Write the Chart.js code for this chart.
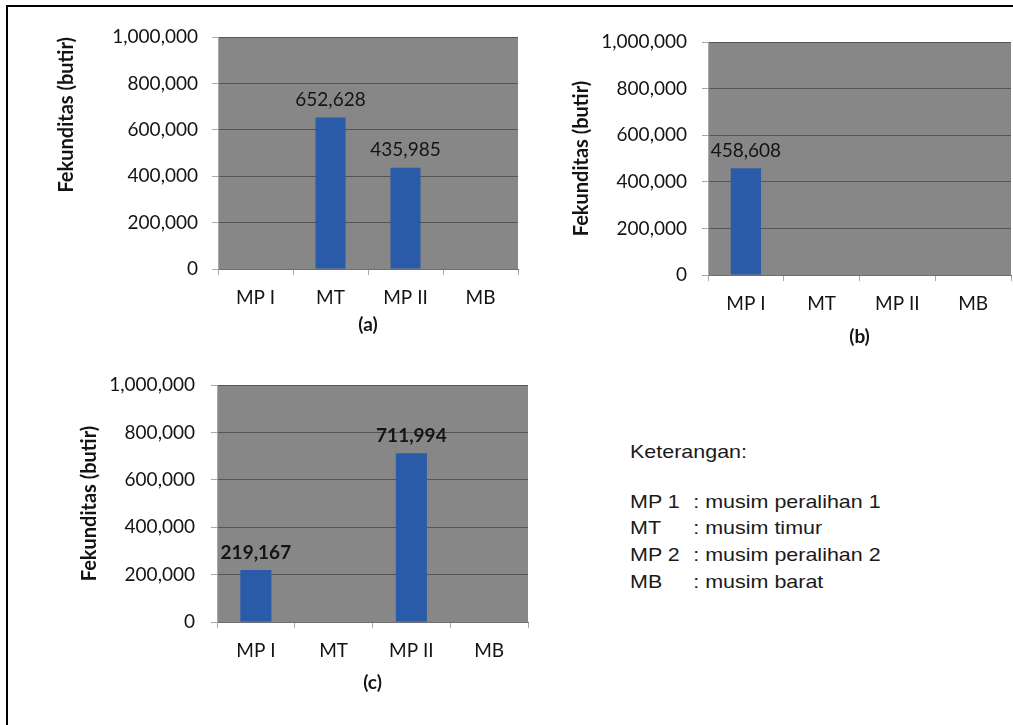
<!DOCTYPE html>
<html>
<head>
<meta charset="utf-8">
<script src="https://cdn.jsdelivr.net/npm/chart.js@4.4.1/dist/chart.umd.min.js"></script>
<style>
  body { margin: 0; background: #fff; width: 1013px; height: 725px; overflow: hidden; position: relative; }
  .frame { position: absolute; left: 6px; top: 5px; width: 1100px; height: 800px; border-left: 2px solid #000; border-top: 2px solid #000; }
  canvas { position: absolute; }
  #chartA { left: 40px; top: 10px; }
  #chartB { left: 550px; top: 14px; }
  #chartC { left: 60px; top: 356px; }
  .note { position: absolute; left: 630px; top: 439px; font-family: "Liberation Sans", Arial, sans-serif; font-size: 19px; line-height: 26.7px; color: #1a1a1a; transform: scaleX(1.13); transform-origin: 0 0; }
  .note .row { position: relative; white-space: nowrap; }
  .note .term { display: inline-block; width: 56px; }
  .note .gap { height: 23px; }
</style>
</head>
<body>
<div class="frame"></div>
<canvas id="chartA" width="490" height="340"></canvas>
<canvas id="chartB" width="463" height="346"></canvas>
<canvas id="chartC" width="480" height="349"></canvas>

<div class="note">
  <div class="row">Keterangan:</div>
  <div class="gap"></div>
  <div class="row"><span class="term">MP 1</span>: musim peralihan 1</div>
  <div class="row"><span class="term">MT</span>: musim timur</div>
  <div class="row"><span class="term">MP 2</span>: musim peralihan 2</div>
  <div class="row"><span class="term">MB</span>: musim barat</div>
</div>

<script>
// seasons on the x axis
const seasons = ["MP I", "MT", "MP II", "MB"];

// fekunditas (butir) per season, empty where no bar is drawn
const fekunditasA = [null, 652628, 435985, null];
const fekunditasB = [458608, null, null, null];
const fekunditasC = [219167, null, 711994, null];

const yMax = 1000000;
const yStep = 200000;

const BAR_BLUE = "#2a5ba9";
const PLOT_GRAY = "#878787";
const TEXT = "#141414";
const FONT = "Lato, 'Open Sans', sans-serif";

Chart.defaults.font.family = FONT;
Chart.defaults.color = TEXT;

// gray plot area behind the bars
const plotBg = {
  id: "plotBg",
  beforeDraw(chart) {
    const { ctx, chartArea: a } = chart;
    ctx.save();
    ctx.fillStyle = PLOT_GRAY;
    ctx.fillRect(a.left, a.top, a.right - a.left, a.bottom - a.top);
    ctx.restore();
  },
};

// value printed above each bar
function valueLabels(bold) {
  return {
    id: "valueLabels",
    afterDatasetsDraw(chart) {
      const ctx = chart.ctx;
      const meta = chart.getDatasetMeta(0);
      const values = chart.data.datasets[0].data;
      ctx.save();
      ctx.font = (bold ? "bold " : "") + "19px " + FONT;
      ctx.fillStyle = TEXT;
      ctx.textAlign = "center";
      ctx.textBaseline = "bottom";
      meta.data.forEach((bar, i) => {
        if (values[i] == null) return;
        ctx.fillText(values[i].toLocaleString("en-US"), bar.x, bar.y - 8);
      });
      ctx.restore();
    },
  };
}

function makeChart(id, values, caption, opt) {
  return new Chart(document.getElementById(id), {
    type: "bar",
    data: {
      labels: seasons,
      datasets: [
        {
          data: values,
          backgroundColor: BAR_BLUE,
          categoryPercentage: 1,
          barPercentage: 0.4,
        },
      ],
    },
    options: {
      responsive: false,
      animation: false,
      layout: { padding: opt.padding },
      plugins: {
        legend: { display: false },
        tooltip: { enabled: false },
      },
      scales: {
        x: {
          grid: {
            drawOnChartArea: false,
            tickLength: 6,
            tickColor: "#a8a8a8",
          },
          border: { color: "#6e6e6e" },
          ticks: { font: { size: 19 }, padding: 11, color: TEXT },
          title: {
            display: true,
            text: caption,
            font: { size: 19, weight: "bold" },
            padding: 0,
            color: TEXT,
          },
          afterFit: (s) => {
            s.height = opt.xHeight;
          },
        },
        y: {
          min: 0,
          max: yMax,
          ticks: {
            stepSize: yStep,
            font: { size: 19 },
            padding: opt.tickPad,
            color: TEXT,
            callback: (v) => v.toLocaleString("en-US"),
          },
          grid: { color: "#565656", tickLength: 6, tickColor: "#a8a8a8" },
          border: { color: "#a8a8a8" },
          title: {
            display: true,
            text: "Fekunditas (butir)",
            font: { size: 20, weight: "bold" },
            align: opt.titleAlign || "center",
            color: TEXT,
          },
          afterFit: (s) => {
            s.width = opt.yWidth;
          },
        },
      },
    },
    plugins: [plotBg, valueLabels(opt.bold)],
  });
}

makeChart("chartA", fekunditasA, "(a)", {
  padding: { left: 11, top: 27, right: 12, bottom: 14 },
  yWidth: 167,
  xHeight: 67,
  tickPad: 14,
  titleAlign: "end",
});

makeChart("chartB", fekunditasB, "(b)", {
  padding: { left: 16, top: 28, right: 2, bottom: 12 },
  yWidth: 142,
  xHeight: 73,
  tickPad: 15,
});

makeChart("chartC", fekunditasC, "(c)", {
  padding: { left: 14, top: 29, right: 12, bottom: 11 },
  yWidth: 143,
  xHeight: 72,
  tickPad: 16,
  bold: true,
});
</script>
</body>
</html>
